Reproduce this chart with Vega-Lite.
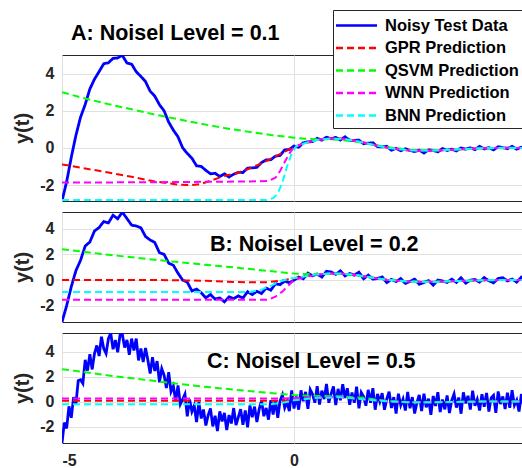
{
  "$schema": "https://vega.github.io/schema/vega-lite/v6.json",
  "padding": {"left": 12, "top": 9, "right": -3, "bottom": 0},
  "spacing": 9,
  "config": {
    "font": "Liberation Sans",
    "view": {"stroke": "#262626", "strokeWidth": 1},
    "axis": {
      "labelFont": "Liberation Sans", "labelFontSize": 16, "labelFontWeight": "bold", "labelColor": "#262626",
      "titleFont": "Liberation Sans", "titleFontWeight": "bold", "titleColor": "#262626",
      "gridColor": "#e0e0e0", "gridWidth": 1, "domain": false, "ticks": false
    },
    "title": {"font": "Liberation Sans", "fontSize": 21.5, "fontWeight": "bold", "color": "#000000", "anchor": "start", "frame": "group", "baseline": "alphabetic"}
  },
  "datasets": {
    "A_noisy": [
      {"t":-5,"y":-2.85},{"t":-4.9,"y":-1.81},{"t":-4.8,"y":-0.5},{"t":-4.7,"y":0.68},{"t":-4.6,"y":1.66},{"t":-4.5,"y":2.34},{"t":-4.4,"y":3.17},{"t":-4.3,"y":3.7},{"t":-4.2,"y":4.11},{"t":-4.1,"y":4.53},
      {"t":-4,"y":4.58},{"t":-3.9,"y":4.82},{"t":-3.8,"y":4.84},{"t":-3.7,"y":4.98},{"t":-3.6,"y":4.57},{"t":-3.5,"y":4.51},{"t":-3.4,"y":4.1},{"t":-3.3,"y":3.85},{"t":-3.2,"y":3.57},{"t":-3.1,"y":3.05},
      {"t":-3,"y":2.79},{"t":-2.9,"y":2.33},{"t":-2.8,"y":2.0},{"t":-2.7,"y":1.39},{"t":-2.6,"y":0.96},{"t":-2.5,"y":0.6},{"t":-2.4,"y":0.01},{"t":-2.3,"y":-0.29},{"t":-2.2,"y":-0.55},{"t":-2.1,"y":-0.96},
      {"t":-2,"y":-0.99},{"t":-1.9,"y":-1.2},{"t":-1.8,"y":-1.39},{"t":-1.7,"y":-1.36},{"t":-1.6,"y":-1.53},{"t":-1.5,"y":-1.39},{"t":-1.4,"y":-1.56},{"t":-1.3,"y":-1.41},{"t":-1.2,"y":-1.31},{"t":-1.1,"y":-1.32},
      {"t":-1,"y":-1.08},{"t":-0.9,"y":-1.07},{"t":-0.8,"y":-1.04},{"t":-0.7,"y":-0.78},{"t":-0.6,"y":-0.64},{"t":-0.5,"y":-0.63},{"t":-0.4,"y":-0.44},{"t":-0.3,"y":-0.4},{"t":-0.2,"y":-0.1},{"t":-0.1,"y":-0.08},
      {"t":0,"y":0.11},{"t":0.1,"y":0.04},{"t":0.2,"y":0.28},{"t":0.3,"y":0.33},{"t":0.4,"y":0.34},{"t":0.5,"y":0.52},{"t":0.6,"y":0.42},{"t":0.7,"y":0.58},{"t":0.8,"y":0.5},{"t":0.9,"y":0.57},
      {"t":1,"y":0.43},{"t":1.1,"y":0.6},{"t":1.2,"y":0.41},{"t":1.3,"y":0.41},{"t":1.4,"y":0.42},{"t":1.5,"y":0.23},{"t":1.6,"y":0.26},{"t":1.7,"y":0.28},{"t":1.8,"y":0.07},{"t":1.9,"y":0.06},
      {"t":2,"y":0.09},{"t":2.1,"y":-0.12},{"t":2.2,"y":-0.02},{"t":2.3,"y":-0.15},{"t":2.4,"y":-0.04},{"t":2.5,"y":-0.13},{"t":2.6,"y":-0.19},{"t":2.7,"y":-0.11},{"t":2.8,"y":-0.27},{"t":2.9,"y":-0.1},
      {"t":3,"y":-0.13},{"t":3.1,"y":-0.21},{"t":3.2,"y":-0.03},{"t":3.3,"y":-0.13},{"t":3.4,"y":-0.06},{"t":3.5,"y":-0.16},{"t":3.6,"y":0.0},{"t":3.7,"y":-0.06},{"t":3.8,"y":0.01},{"t":3.9,"y":-0.09},
      {"t":4,"y":0.09},{"t":4.1,"y":-0.05},{"t":4.2,"y":0.02},{"t":4.3,"y":-0.1},{"t":4.4,"y":0.07},{"t":4.5,"y":0.02},{"t":4.6,"y":-0.04},{"t":4.7,"y":0.09},{"t":4.8,"y":-0.06},{"t":4.9,"y":0.04},
      {"t":5,"y":-0.02}
    ],
    "A_pred": [
      {"series":"GPR Prediction","t":-5,"y":-0.88},{"series":"GPR Prediction","t":-4.5,"y":-1.1},{"series":"GPR Prediction","t":-4,"y":-1.32},{"series":"GPR Prediction","t":-3.5,"y":-1.55},{"series":"GPR Prediction","t":-3,"y":-1.8},{"series":"GPR Prediction","t":-2.5,"y":-1.97},{"series":"GPR Prediction","t":-2.2,"y":-1.99},{"series":"GPR Prediction","t":-2,"y":-1.93},{"series":"GPR Prediction","t":-1.75,"y":-1.72},{"series":"GPR Prediction","t":-1.5,"y":-1.5},{"series":"GPR Prediction","t":-1.25,"y":-1.36},{"series":"GPR Prediction","t":-1,"y":-1.14},{"series":"GPR Prediction","t":-0.75,"y":-0.88},{"series":"GPR Prediction","t":-0.5,"y":-0.58},{"series":"GPR Prediction","t":-0.25,"y":-0.26},{"series":"GPR Prediction","t":0,"y":0.05},{"series":"GPR Prediction","t":0.25,"y":0.28},{"series":"GPR Prediction","t":0.5,"y":0.44},{"series":"GPR Prediction","t":0.75,"y":0.51},{"series":"GPR Prediction","t":1,"y":0.51},{"series":"GPR Prediction","t":1.25,"y":0.43},{"series":"GPR Prediction","t":1.5,"y":0.3},{"series":"GPR Prediction","t":1.75,"y":0.15},{"series":"GPR Prediction","t":2,"y":0.02},{"series":"GPR Prediction","t":2.5,"y":-0.14},{"series":"GPR Prediction","t":3,"y":-0.15},{"series":"GPR Prediction","t":3.5,"y":-0.08},{"series":"GPR Prediction","t":4,"y":-0.02},{"series":"GPR Prediction","t":4.5,"y":0.01},{"series":"GPR Prediction","t":5,"y":0},
      {"series":"QSVM Prediction","t":-5,"y":3.0},{"series":"QSVM Prediction","t":-4.5,"y":2.66},{"series":"QSVM Prediction","t":-4,"y":2.36},{"series":"QSVM Prediction","t":-3.5,"y":2.08},{"series":"QSVM Prediction","t":-3,"y":1.8},{"series":"QSVM Prediction","t":-2.5,"y":1.55},{"series":"QSVM Prediction","t":-2,"y":1.3},{"series":"QSVM Prediction","t":-1.5,"y":1.07},{"series":"QSVM Prediction","t":-1,"y":0.88},{"series":"QSVM Prediction","t":-0.5,"y":0.7},{"series":"QSVM Prediction","t":0,"y":0.55},{"series":"QSVM Prediction","t":0.25,"y":0.5},{"series":"QSVM Prediction","t":0.5,"y":0.47},{"series":"QSVM Prediction","t":0.75,"y":0.47},{"series":"QSVM Prediction","t":1,"y":0.44},{"series":"QSVM Prediction","t":1.25,"y":0.37},{"series":"QSVM Prediction","t":1.5,"y":0.27},{"series":"QSVM Prediction","t":1.75,"y":0.16},{"series":"QSVM Prediction","t":2,"y":0.05},{"series":"QSVM Prediction","t":2.5,"y":-0.1},{"series":"QSVM Prediction","t":3,"y":-0.13},{"series":"QSVM Prediction","t":3.5,"y":-0.08},{"series":"QSVM Prediction","t":4,"y":-0.03},{"series":"QSVM Prediction","t":4.5,"y":0},{"series":"QSVM Prediction","t":5,"y":0},
      {"series":"WNN Prediction","t":-5,"y":-1.86},{"series":"WNN Prediction","t":-3,"y":-1.84},{"series":"WNN Prediction","t":-1,"y":-1.8},{"series":"WNN Prediction","t":-0.55,"y":-1.77},{"series":"WNN Prediction","t":-0.4,"y":-1.6},{"series":"WNN Prediction","t":-0.3,"y":-1.24},{"series":"WNN Prediction","t":-0.2,"y":-0.75},{"series":"WNN Prediction","t":-0.1,"y":-0.3},{"series":"WNN Prediction","t":0,"y":0.05},{"series":"WNN Prediction","t":0.25,"y":0.28},{"series":"WNN Prediction","t":0.5,"y":0.44},{"series":"WNN Prediction","t":0.75,"y":0.51},{"series":"WNN Prediction","t":1,"y":0.51},{"series":"WNN Prediction","t":1.25,"y":0.43},{"series":"WNN Prediction","t":1.5,"y":0.3},{"series":"WNN Prediction","t":1.75,"y":0.15},{"series":"WNN Prediction","t":2,"y":0.02},{"series":"WNN Prediction","t":2.5,"y":-0.14},{"series":"WNN Prediction","t":3,"y":-0.15},{"series":"WNN Prediction","t":3.5,"y":-0.08},{"series":"WNN Prediction","t":4,"y":-0.02},{"series":"WNN Prediction","t":4.5,"y":0.01},{"series":"WNN Prediction","t":5,"y":0},
      {"series":"BNN Prediction","t":-5,"y":-2.8},{"series":"BNN Prediction","t":-0.6,"y":-2.8},{"series":"BNN Prediction","t":-0.45,"y":-2.7},{"series":"BNN Prediction","t":-0.35,"y":-2.45},{"series":"BNN Prediction","t":-0.25,"y":-1.85},{"series":"BNN Prediction","t":-0.15,"y":-1.0},{"series":"BNN Prediction","t":-0.05,"y":-0.3},{"series":"BNN Prediction","t":0.05,"y":0.1},{"series":"BNN Prediction","t":0.25,"y":0.27},{"series":"BNN Prediction","t":0.5,"y":0.43},{"series":"BNN Prediction","t":0.75,"y":0.5},{"series":"BNN Prediction","t":1,"y":0.5},{"series":"BNN Prediction","t":1.25,"y":0.42},{"series":"BNN Prediction","t":1.5,"y":0.29},{"series":"BNN Prediction","t":1.75,"y":0.14},{"series":"BNN Prediction","t":2,"y":0.01},{"series":"BNN Prediction","t":2.5,"y":-0.13},{"series":"BNN Prediction","t":3,"y":-0.14},{"series":"BNN Prediction","t":3.5,"y":-0.08},{"series":"BNN Prediction","t":4,"y":-0.02},{"series":"BNN Prediction","t":4.5,"y":0.01},{"series":"BNN Prediction","t":5,"y":0}
    ],
    "B_noisy": [
      {"t":-5,"y":-3.27},{"t":-4.9,"y":-2.0},{"t":-4.8,"y":-0.52},{"t":-4.7,"y":0.73},{"t":-4.6,"y":1.54},{"t":-4.5,"y":2.65},{"t":-4.4,"y":2.96},{"t":-4.3,"y":3.82},{"t":-4.2,"y":4.09},{"t":-4.1,"y":4.56},
      {"t":-4,"y":4.45},{"t":-3.9,"y":5.05},{"t":-3.8,"y":4.77},{"t":-3.7,"y":5.29},{"t":-3.6,"y":4.79},{"t":-3.5,"y":4.28},{"t":-3.4,"y":4.21},{"t":-3.3,"y":4.07},{"t":-3.2,"y":3.39},{"t":-3.1,"y":3.12},
      {"t":-3,"y":2.92},{"t":-2.9,"y":2.13},{"t":-2.8,"y":2.0},{"t":-2.7,"y":1.31},{"t":-2.6,"y":1.15},{"t":-2.5,"y":0.53},{"t":-2.4,"y":0.0},{"t":-2.3,"y":-0.17},{"t":-2.2,"y":-0.85},{"t":-2.1,"y":-0.71},
      {"t":-2,"y":-0.99},{"t":-1.9,"y":-1.39},{"t":-1.8,"y":-1.13},{"t":-1.7,"y":-1.49},{"t":-1.6,"y":-1.4},{"t":-1.5,"y":-1.7},{"t":-1.4,"y":-1.31},{"t":-1.3,"y":-1.45},{"t":-1.2,"y":-1.24},{"t":-1.1,"y":-1.4},
      {"t":-1,"y":-0.91},{"t":-0.9,"y":-1.13},{"t":-0.8,"y":-0.88},{"t":-0.7,"y":-1.05},{"t":-0.6,"y":-0.63},{"t":-0.5,"y":-0.79},{"t":-0.4,"y":-0.29},{"t":-0.3,"y":-0.36},{"t":-0.2,"y":-0.09},{"t":-0.1,"y":-0.21},
      {"t":0,"y":-0.01},{"t":0.1,"y":0.23},{"t":0.2,"y":0.1},{"t":0.3,"y":0.54},{"t":0.4,"y":0.33},{"t":0.5,"y":0.47},{"t":0.6,"y":0.23},{"t":0.7,"y":0.68},{"t":0.8,"y":0.63},{"t":0.9,"y":0.44},
      {"t":1,"y":0.71},{"t":1.1,"y":0.32},{"t":1.2,"y":0.51},{"t":1.3,"y":0.38},{"t":1.4,"y":0.61},{"t":1.5,"y":0.1},{"t":1.6,"y":0.38},{"t":1.7,"y":0.07},{"t":1.8,"y":0.12},{"t":1.9,"y":0.24},
      {"t":2,"y":-0.2},{"t":2.1,"y":0.06},{"t":2.2,"y":-0.12},{"t":2.3,"y":0.11},{"t":2.4,"y":-0.26},{"t":2.5,"y":-0.11},{"t":2.6,"y":0.07},{"t":2.7,"y":-0.33},{"t":2.8,"y":-0.19},{"t":2.9,"y":-0.05},
      {"t":3,"y":-0.4},{"t":3.1,"y":0.0},{"t":3.2,"y":-0.07},{"t":3.3,"y":-0.19},{"t":3.4,"y":0.07},{"t":3.5,"y":-0.19},{"t":3.6,"y":0.18},{"t":3.7,"y":-0.25},{"t":3.8,"y":-0.01},{"t":3.9,"y":0.05},
      {"t":4,"y":-0.16},{"t":4.1,"y":0.19},{"t":4.2,"y":-0.06},{"t":4.3,"y":-0.22},{"t":4.4,"y":0.12},{"t":4.5,"y":0.18},{"t":4.6,"y":-0.07},{"t":4.7,"y":0.07},{"t":4.8,"y":-0.16},{"t":4.9,"y":0.22},
      {"t":5,"y":-0.03}
    ],
    "B_pred": [
      {"series":"GPR Prediction","t":-5,"y":0},{"series":"GPR Prediction","t":-3,"y":0},{"series":"GPR Prediction","t":-2,"y":-0.05},{"series":"GPR Prediction","t":-1.5,"y":-0.12},{"series":"GPR Prediction","t":-1,"y":-0.18},{"series":"GPR Prediction","t":-0.6,"y":-0.17},{"series":"GPR Prediction","t":-0.3,"y":-0.05},{"series":"GPR Prediction","t":0,"y":0.12},{"series":"GPR Prediction","t":0.25,"y":0.3},{"series":"GPR Prediction","t":0.5,"y":0.44},{"series":"GPR Prediction","t":0.75,"y":0.5},{"series":"GPR Prediction","t":1,"y":0.5},{"series":"GPR Prediction","t":1.25,"y":0.43},{"series":"GPR Prediction","t":1.5,"y":0.3},{"series":"GPR Prediction","t":1.75,"y":0.15},{"series":"GPR Prediction","t":2,"y":0.02},{"series":"GPR Prediction","t":2.5,"y":-0.12},{"series":"GPR Prediction","t":3,"y":-0.14},{"series":"GPR Prediction","t":3.5,"y":-0.08},{"series":"GPR Prediction","t":4,"y":-0.02},{"series":"GPR Prediction","t":4.5,"y":0.01},{"series":"GPR Prediction","t":5,"y":0},
      {"series":"QSVM Prediction","t":-5,"y":2.4},{"series":"QSVM Prediction","t":-4,"y":1.97},{"series":"QSVM Prediction","t":-3,"y":1.58},{"series":"QSVM Prediction","t":-2,"y":1.22},{"series":"QSVM Prediction","t":-1,"y":0.88},{"series":"QSVM Prediction","t":0,"y":0.5},{"series":"QSVM Prediction","t":0.25,"y":0.47},{"series":"QSVM Prediction","t":0.5,"y":0.47},{"series":"QSVM Prediction","t":0.75,"y":0.48},{"series":"QSVM Prediction","t":1,"y":0.46},{"series":"QSVM Prediction","t":1.25,"y":0.38},{"series":"QSVM Prediction","t":1.5,"y":0.27},{"series":"QSVM Prediction","t":1.75,"y":0.15},{"series":"QSVM Prediction","t":2,"y":0.04},{"series":"QSVM Prediction","t":2.5,"y":-0.1},{"series":"QSVM Prediction","t":3,"y":-0.13},{"series":"QSVM Prediction","t":3.5,"y":-0.08},{"series":"QSVM Prediction","t":4,"y":-0.03},{"series":"QSVM Prediction","t":4.5,"y":0},{"series":"QSVM Prediction","t":5,"y":0},
      {"series":"WNN Prediction","t":-5,"y":-1.53},{"series":"WNN Prediction","t":-0.55,"y":-1.53},{"series":"WNN Prediction","t":-0.4,"y":-1.3},{"series":"WNN Prediction","t":-0.25,"y":-0.9},{"series":"WNN Prediction","t":-0.1,"y":-0.35},{"series":"WNN Prediction","t":0,"y":0.0},{"series":"WNN Prediction","t":0.25,"y":0.26},{"series":"WNN Prediction","t":0.5,"y":0.42},{"series":"WNN Prediction","t":0.75,"y":0.5},{"series":"WNN Prediction","t":1,"y":0.5},{"series":"WNN Prediction","t":1.25,"y":0.42},{"series":"WNN Prediction","t":1.5,"y":0.29},{"series":"WNN Prediction","t":1.75,"y":0.14},{"series":"WNN Prediction","t":2,"y":0.01},{"series":"WNN Prediction","t":2.5,"y":-0.13},{"series":"WNN Prediction","t":3,"y":-0.14},{"series":"WNN Prediction","t":3.5,"y":-0.08},{"series":"WNN Prediction","t":4,"y":-0.02},{"series":"WNN Prediction","t":4.5,"y":0.01},{"series":"WNN Prediction","t":5,"y":0},
      {"series":"BNN Prediction","t":-5,"y":-0.93},{"series":"BNN Prediction","t":-0.95,"y":-0.93},{"series":"BNN Prediction","t":-0.7,"y":-0.75},{"series":"BNN Prediction","t":-0.5,"y":-0.45},{"series":"BNN Prediction","t":-0.3,"y":-0.1},{"series":"BNN Prediction","t":-0.1,"y":0.1},{"series":"BNN Prediction","t":0,"y":0.15},{"series":"BNN Prediction","t":0.25,"y":0.3},{"series":"BNN Prediction","t":0.5,"y":0.44},{"series":"BNN Prediction","t":0.75,"y":0.5},{"series":"BNN Prediction","t":1,"y":0.5},{"series":"BNN Prediction","t":1.25,"y":0.43},{"series":"BNN Prediction","t":1.5,"y":0.3},{"series":"BNN Prediction","t":1.75,"y":0.15},{"series":"BNN Prediction","t":2,"y":0.02},{"series":"BNN Prediction","t":2.5,"y":-0.13},{"series":"BNN Prediction","t":3,"y":-0.15},{"series":"BNN Prediction","t":3.5,"y":-0.08},{"series":"BNN Prediction","t":4,"y":-0.02},{"series":"BNN Prediction","t":4.5,"y":0.01},{"series":"BNN Prediction","t":5,"y":0}
    ],
    "C_noisy": [
      {"t":-5,"y":-3.32},{"t":-4.95,"y":-1.68},{"t":-4.9,"y":-2.15},{"t":-4.85,"y":-0.38},{"t":-4.8,"y":-1.3},{"t":-4.75,"y":0.35},{"t":-4.7,"y":-0.2},{"t":-4.65,"y":1.68},{"t":-4.6,"y":1.75},{"t":-4.55,"y":1.45},
      {"t":-4.5,"y":3.35},{"t":-4.45,"y":2.48},{"t":-4.4,"y":3.8},{"t":-4.35,"y":2.58},{"t":-4.3,"y":3.85},{"t":-4.25,"y":4.5},{"t":-4.2,"y":3.65},{"t":-4.15,"y":5.2},{"t":-4.1,"y":4.25},{"t":-4.05,"y":3.85},
      {"t":-4,"y":5.05},{"t":-3.95,"y":5.49},{"t":-3.9,"y":4.2},{"t":-3.85,"y":4.93},{"t":-3.8,"y":3.95},{"t":-3.75,"y":5.33},{"t":-3.7,"y":5.4},{"t":-3.65,"y":4.33},{"t":-3.6,"y":4.95},{"t":-3.55,"y":3.75},
      {"t":-3.5,"y":5.05},{"t":-3.45,"y":4.1},{"t":-3.4,"y":5.05},{"t":-3.35,"y":3.3},{"t":-3.3,"y":4.25},{"t":-3.25,"y":3.18},{"t":-3.2,"y":4.3},{"t":-3.15,"y":3.33},{"t":-3.1,"y":2.25},{"t":-3.05,"y":3.55},
      {"t":-3,"y":2.45},{"t":-2.95,"y":3.25},{"t":-2.9,"y":1.55},{"t":-2.85,"y":2.64},{"t":-2.8,"y":2.12},{"t":-2.75,"y":1.09},{"t":-2.7,"y":2.35},{"t":-2.65,"y":0.8},{"t":-2.6,"y":1.25},{"t":-2.55,"y":0.03},
      {"t":-2.5,"y":1.3},{"t":-2.45,"y":-0.21},{"t":-2.4,"y":0.18},{"t":-2.35,"y":0.6},{"t":-2.3,"y":-1.18},{"t":-2.25,"y":0.16},{"t":-2.2,"y":-0.8},{"t":-2.15,"y":-0.33},{"t":-2.1,"y":-1.65},{"t":-2.05,"y":-0.05},
      {"t":-2,"y":-1.35},{"t":-1.95,"y":-0.64},{"t":-1.9,"y":-1.92},{"t":-1.85,"y":-1.09},{"t":-1.8,"y":-0.55},{"t":-1.75,"y":-1.99},{"t":-1.7,"y":-1.13},{"t":-1.65,"y":-2.36},{"t":-1.6,"y":-0.78},{"t":-1.55,"y":-1.59},
      {"t":-1.5,"y":-0.9},{"t":-1.45,"y":-2.29},{"t":-1.4,"y":-1.08},{"t":-1.35,"y":-1.75},{"t":-1.3,"y":-0.52},{"t":-1.25,"y":-1.89},{"t":-1.2,"y":-1.25},{"t":-1.15,"y":-0.61},{"t":-1.1,"y":-1.86},{"t":-1.05,"y":-0.71},
      {"t":-1,"y":-2.06},{"t":-0.95,"y":-0.31},{"t":-0.9,"y":-1.25},{"t":-0.85,"y":-0.4},{"t":-0.8,"y":-1.64},{"t":-0.75,"y":-0.59},{"t":-0.7,"y":0.07},{"t":-0.65,"y":-1.17},{"t":-0.6,"y":-0.51},{"t":-0.55,"y":-1.45},
      {"t":-0.5,"y":0.11},{"t":-0.45,"y":-1.03},{"t":-0.4,"y":0.14},{"t":-0.35,"y":-1.3},{"t":-0.3,"y":0.07},{"t":-0.25,"y":0.54},{"t":-0.2,"y":-0.5},{"t":-0.15,"y":-0.04},{"t":-0.1,"y":-0.77},{"t":-0.05,"y":0.89},
      {"t":0,"y":-0.55},{"t":0.05,"y":0.4},{"t":0.1,"y":-0.65},{"t":0.15,"y":0.9},{"t":0.2,"y":0.04},{"t":0.25,"y":0.78},{"t":0.3,"y":-0.58},{"t":0.35,"y":0.96},{"t":0.4,"y":0.59},{"t":0.45,"y":-0.09},
      {"t":0.5,"y":1.24},{"t":0.55,"y":-0.24},{"t":0.6,"y":0.88},{"t":0.65,"y":0.2},{"t":0.7,"y":1.41},{"t":0.75,"y":-0.09},{"t":0.8,"y":0.62},{"t":0.85,"y":1.22},{"t":0.9,"y":-0.28},{"t":0.95,"y":1.02},
      {"t":1,"y":0.11},{"t":1.05,"y":1.4},{"t":1.1,"y":0.29},{"t":1.15,"y":1.07},{"t":1.2,"y":-0.25},{"t":1.25,"y":0.73},{"t":1.3,"y":-0.09},{"t":1.35,"y":1.19},{"t":1.4,"y":-0.54},{"t":1.45,"y":0.73},
      {"t":1.5,"y":0.4},{"t":1.55,"y":-0.33},{"t":1.6,"y":0.94},{"t":1.65,"y":-0.09},{"t":1.7,"y":1.08},{"t":1.75,"y":-0.65},{"t":1.8,"y":0.62},{"t":1.85,"y":-0.01},{"t":1.9,"y":0.67},{"t":1.95,"y":-0.66},
      {"t":2,"y":0.22},{"t":2.05,"y":0.8},{"t":2.1,"y":-0.52},{"t":2.15,"y":0.36},{"t":2.2,"y":-0.96},{"t":2.25,"y":0.63},{"t":2.3,"y":-0.29},{"t":2.35,"y":0.2},{"t":2.4,"y":-0.72},{"t":2.45,"y":0.77},
      {"t":2.5,"y":-0.54},{"t":2.55,"y":0.36},{"t":2.6,"y":-0.95},{"t":2.65,"y":-0.06},{"t":2.7,"y":0.54},{"t":2.75,"y":-0.76},{"t":2.8,"y":0.64},{"t":2.85,"y":-0.46},{"t":2.9,"y":0.24},{"t":2.95,"y":-1.06},
      {"t":3,"y":0.45},{"t":3.05,"y":-0.35},{"t":3.1,"y":0.76},{"t":3.15,"y":-0.84},{"t":3.2,"y":0.17},{"t":3.25,"y":-0.62},{"t":3.3,"y":0.49},{"t":3.35,"y":-0.91},{"t":3.4,"y":0.1},{"t":3.45,"y":0.61},
      {"t":3.5,"y":-0.48},{"t":3.55,"y":0.33},{"t":3.6,"y":-0.97},{"t":3.65,"y":0.74},{"t":3.7,"y":-0.15},{"t":3.75,"y":0.46},{"t":3.8,"y":-0.64},{"t":3.85,"y":0.87},{"t":3.9,"y":-0.33},{"t":3.95,"y":0.18},
      {"t":4,"y":-0.72},{"t":4.05,"y":0.59},{"t":4.1,"y":-0.41},{"t":4.15,"y":0.7},{"t":4.2,"y":-0.8},{"t":4.25,"y":0.3},{"t":4.3,"y":0.5},{"t":4.35,"y":-0.9},{"t":4.4,"y":0.81},{"t":4.45,"y":-0.19},
      {"t":4.5,"y":0.41},{"t":4.55,"y":-0.59},{"t":4.6,"y":0.71},{"t":4.65,"y":-0.49},{"t":4.7,"y":0.91},{"t":4.75,"y":-0.29},{"t":4.8,"y":0.11},{"t":4.85,"y":-0.8},{"t":4.9,"y":0.6},{"t":4.95,"y":-0.4},
      {"t":5,"y":0.2}
    ],
    "C_pred": [
      {"series":"GPR Prediction","t":-5,"y":0.06},{"series":"GPR Prediction","t":-0.3,"y":0.06},{"series":"GPR Prediction","t":0,"y":0.15},{"series":"GPR Prediction","t":0.5,"y":0.32},{"series":"GPR Prediction","t":1,"y":0.35},{"series":"GPR Prediction","t":1.5,"y":0.2},{"series":"GPR Prediction","t":2,"y":0.05},{"series":"GPR Prediction","t":2.5,"y":-0.05},{"series":"GPR Prediction","t":3,"y":-0.05},{"series":"GPR Prediction","t":4,"y":0},{"series":"GPR Prediction","t":5,"y":0},
      {"series":"QSVM Prediction","t":-5,"y":2.6},{"series":"QSVM Prediction","t":-4,"y":2.1},{"series":"QSVM Prediction","t":-3,"y":1.65},{"series":"QSVM Prediction","t":-2,"y":1.22},{"series":"QSVM Prediction","t":-1,"y":0.85},{"series":"QSVM Prediction","t":0,"y":0.52},{"series":"QSVM Prediction","t":0.5,"y":0.45},{"series":"QSVM Prediction","t":1,"y":0.42},{"series":"QSVM Prediction","t":1.5,"y":0.3},{"series":"QSVM Prediction","t":2,"y":0.05},{"series":"QSVM Prediction","t":2.5,"y":-0.06},{"series":"QSVM Prediction","t":3,"y":-0.06},{"series":"QSVM Prediction","t":4,"y":0},{"series":"QSVM Prediction","t":5,"y":0},
      {"series":"WNN Prediction","t":-5,"y":0.24},{"series":"WNN Prediction","t":-0.3,"y":0.24},{"series":"WNN Prediction","t":0,"y":0.28},{"series":"WNN Prediction","t":0.5,"y":0.35},{"series":"WNN Prediction","t":1,"y":0.38},{"series":"WNN Prediction","t":1.5,"y":0.18},{"series":"WNN Prediction","t":2,"y":0.03},{"series":"WNN Prediction","t":2.5,"y":-0.05},{"series":"WNN Prediction","t":3,"y":-0.05},{"series":"WNN Prediction","t":4,"y":0},{"series":"WNN Prediction","t":5,"y":0},
      {"series":"BNN Prediction","t":-5,"y":-0.21},{"series":"BNN Prediction","t":-0.5,"y":-0.21},{"series":"BNN Prediction","t":-0.25,"y":-0.1},{"series":"BNN Prediction","t":0,"y":0.1},{"series":"BNN Prediction","t":0.5,"y":0.3},{"series":"BNN Prediction","t":1,"y":0.35},{"series":"BNN Prediction","t":1.5,"y":0.18},{"series":"BNN Prediction","t":2,"y":0.02},{"series":"BNN Prediction","t":2.5,"y":-0.05},{"series":"BNN Prediction","t":3,"y":-0.05},{"series":"BNN Prediction","t":4,"y":0},{"series":"BNN Prediction","t":5,"y":0}
    ]
  },
  "vconcat": [
    {
      "width": 464, "height": 146,
      "title": {"text": "A: Noisel Level = 0.1", "dx": 9, "offset": 11},
      "encoding": {
        "x": {"field": "t", "type": "quantitative", "scale": {"domain": [-5, 5], "nice": false}, "axis": {"values": [-5, 0, 5], "labels": false, "title": null, "grid": true}},
        "y": {"field": "y", "type": "quantitative", "scale": {"domain": [-2.85, 5], "nice": false, "zero": false}, "axis": {"values": [-2, 0, 2, 4], "labelExpr": "'' + datum.value", "labelPadding": 8, "title": "y(t)", "titleFontSize": 20, "titlePadding": 7}}
      },
      "layer": [
        {
          "data": {"name": "A_noisy"},
          "mark": {"type": "line", "strokeWidth": 2.8, "clip": true},
          "encoding": {
            "color": {"datum": "Noisy Test Data", "type": "nominal", "title": null,
              "scale": {"domain": ["Noisy Test Data", "GPR Prediction", "QSVM Prediction", "WNN Prediction", "BNN Prediction"], "range": ["#0000ff", "#ff0000", "#00ff00", "#ff00ff", "#00ffff"]},
              "legend": {"title": null, "orient": "none", "legendX": 271, "legendY": -45, "fillColor": "#ffffff", "strokeColor": "#262626", "padding": 4, "labelFont": "Liberation Sans", "labelFontSize": 16.5, "labelFontWeight": "bold", "labelColor": "#000000", "symbolType": "M-2.05,0H2.05", "symbolSize": 400, "symbolStrokeWidth": 2.5, "symbolOffset": 8, "labelOffset": 17, "rowPadding": 2.5}},
            "strokeDash": {"datum": "Noisy Test Data", "type": "nominal", "title": null,
              "scale": {"domain": ["Noisy Test Data", "GPR Prediction", "QSVM Prediction", "WNN Prediction", "BNN Prediction"], "range": [[1, 0], [7, 4], [7, 4], [7, 4], [7, 4]]},
              "legend": {"title": null, "orient": "none", "legendX": 271, "legendY": -45, "fillColor": "#ffffff", "strokeColor": "#262626", "padding": 4, "labelFont": "Liberation Sans", "labelFontSize": 16.5, "labelFontWeight": "bold", "labelColor": "#000000", "symbolType": "M-2.05,0H2.05", "symbolSize": 400, "symbolStrokeWidth": 2.5, "symbolOffset": 8, "labelOffset": 17, "rowPadding": 2.5}}
          }
        },
        {
          "data": {"name": "A_pred"},
          "mark": {"type": "line", "strokeWidth": 2, "clip": true},
          "encoding": {
            "color": {"field": "series", "type": "nominal", "title": null},
            "strokeDash": {"field": "series", "type": "nominal", "title": null}
          }
        }
      ]
    },
    {
      "width": 464, "height": 110,
      "title": {"text": "B: Noisel Level = 0.2", "dx": 148, "offset": -43},
      "encoding": {
        "x": {"field": "t", "type": "quantitative", "scale": {"domain": [-5, 5], "nice": false}, "axis": {"values": [-5, 0, 5], "labels": false, "title": null, "grid": true}},
        "y": {"field": "y", "type": "quantitative", "scale": {"domain": [-3.27, 5.3], "nice": false, "zero": false}, "axis": {"values": [-2, 0, 2, 4], "labelExpr": "'' + datum.value", "labelPadding": 8, "title": "y(t)", "titleFontSize": 20, "titlePadding": 7}}
      },
      "layer": [
        {
          "data": {"name": "B_noisy"},
          "mark": {"type": "line", "strokeWidth": 2.8, "clip": true},
          "encoding": {
            "color": {"datum": "Noisy Test Data", "type": "nominal", "title": null},
            "strokeDash": {"datum": "Noisy Test Data", "type": "nominal", "title": null}
          }
        },
        {
          "data": {"name": "B_pred"},
          "mark": {"type": "line", "strokeWidth": 2, "clip": true},
          "encoding": {
            "color": {"field": "series", "type": "nominal", "title": null},
            "strokeDash": {"field": "series", "type": "nominal", "title": null}
          }
        }
      ]
    },
    {
      "width": 464, "height": 110,
      "title": {"text": "C: Noisel Level = 0.5", "dx": 145, "offset": -39},
      "encoding": {
        "x": {"field": "t", "type": "quantitative", "scale": {"domain": [-5, 5], "nice": false}, "axis": {"values": [-5, 0, 5], "labelExpr": "datum.value == 5 ? '' : '' + datum.value", "labelPadding": 9, "title": null, "grid": true}},
        "y": {"field": "y", "type": "quantitative", "scale": {"domain": [-3.32, 5.5], "nice": false, "zero": false}, "axis": {"values": [-2, 0, 2, 4], "labelExpr": "'' + datum.value", "labelPadding": 8, "title": "y(t)", "titleFontSize": 20, "titlePadding": 7}}
      },
      "layer": [
        {
          "data": {"name": "C_noisy"},
          "mark": {"type": "line", "strokeWidth": 2.8, "clip": true},
          "encoding": {
            "color": {"datum": "Noisy Test Data", "type": "nominal", "title": null},
            "strokeDash": {"datum": "Noisy Test Data", "type": "nominal", "title": null}
          }
        },
        {
          "data": {"name": "C_pred"},
          "mark": {"type": "line", "strokeWidth": 2, "clip": true},
          "encoding": {
            "color": {"field": "series", "type": "nominal", "title": null},
            "strokeDash": {"field": "series", "type": "nominal", "title": null}
          }
        }
      ]
    }
  ]
}
